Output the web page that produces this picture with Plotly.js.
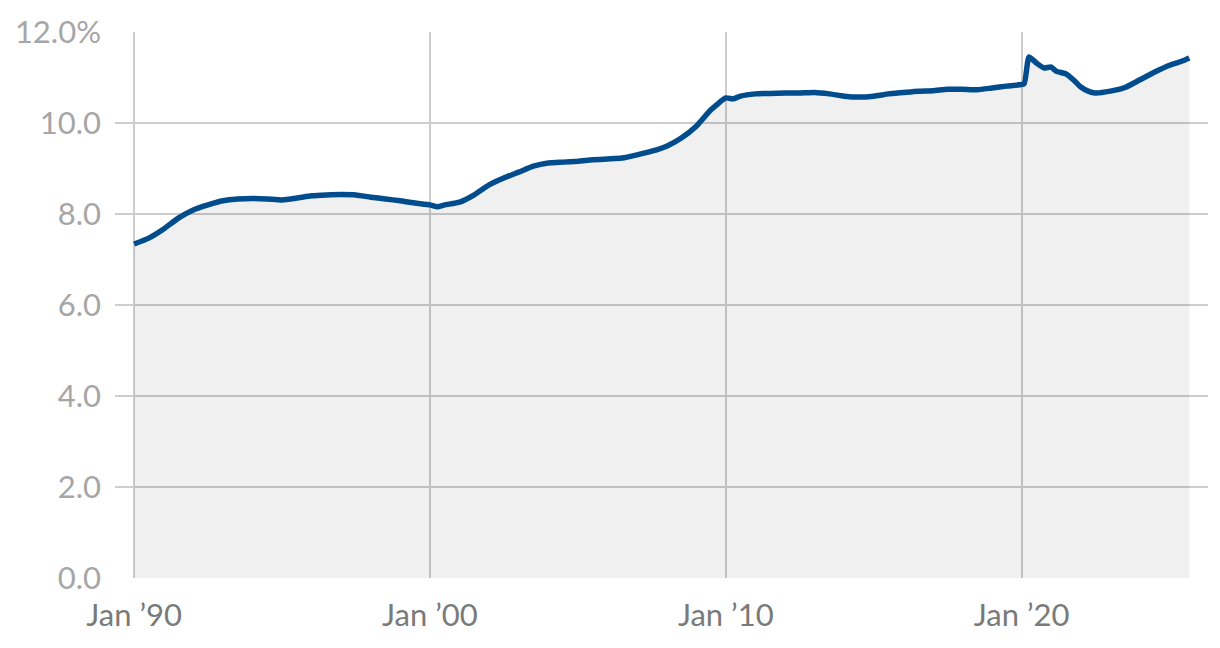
<!DOCTYPE html>
<html>
<head>
<meta charset="utf-8">
<script src="https://cdn.plot.ly/plotly-3.0.1.min.js"></script>
<style>html,body{margin:0;padding:0;background:#fff;}#chart{width:1220px;height:648px;}</style>
</head>
<body>
<div id="chart"></div>
<script>
const dates = [
  "1990-01-01","1990-07-01","1991-01-01","1991-07-01","1992-01-01","1992-07-01",
  "1993-01-01","1993-07-01","1994-01-01","1994-07-01","1995-01-01","1995-07-01",
  "1996-01-01","1996-07-01","1997-01-01","1997-07-01","1998-01-01","1998-07-01",
  "1999-01-01","1999-07-01","2000-01-01","2000-04-01","2000-07-01","2001-01-01",
  "2001-07-01","2002-01-01","2002-07-01","2003-01-01","2003-07-01","2004-01-01",
  "2004-07-01","2005-01-01","2005-07-01","2006-01-01","2006-07-01","2007-01-01",
  "2007-07-01","2008-01-01","2008-07-01","2009-01-01","2009-07-01","2010-01-01",
  "2010-04-01","2010-07-01","2011-01-01","2011-07-01","2012-01-01","2012-07-01",
  "2013-01-01","2013-07-01","2014-01-01","2014-07-01","2015-01-01","2015-07-01",
  "2016-01-01","2016-07-01","2017-01-01","2017-07-01","2018-01-01","2018-07-01",
  "2019-01-01","2019-07-01","2019-12-01","2020-02-01","2020-04-01","2020-07-01",
  "2020-10-01","2021-01-01","2021-03-01","2021-07-01","2021-10-01","2022-01-01",
  "2022-04-01","2022-07-01","2023-01-01","2023-07-01","2024-01-01","2024-07-01",
  "2025-01-01","2025-04-01","2025-07-01","2025-09-01"
];
const rate = [
  7.34,7.47,7.67,7.91,8.09,8.20,
  8.29,8.33,8.34,8.33,8.31,8.35,
  8.40,8.42,8.43,8.42,8.37,8.33,
  8.29,8.24,8.20,8.16,8.20,8.26,
  8.42,8.64,8.79,8.92,9.05,9.12,
  9.14,9.16,9.19,9.21,9.23,9.30,
  9.38,9.49,9.67,9.93,10.29,10.55,
  10.53,10.59,10.64,10.65,10.66,10.66,
  10.67,10.64,10.59,10.57,10.59,10.64,
  10.67,10.70,10.71,10.74,10.74,10.73,
  10.77,10.81,10.84,10.86,11.45,11.32,
  11.21,11.23,11.14,11.08,10.95,10.79,
  10.70,10.66,10.70,10.78,10.95,11.12,
  11.27,11.32,11.38,11.43
];
const yTickVals = [0,2,4,6,8,10,12];
const yTickText = ["0.0","2.0","4.0","6.0","8.0","10.0","12.0%"];
const xTickVals = ["1990-01-01","2000-01-01","2010-01-01","2020-01-01"];
const xTickText = ["Jan \u201990","Jan \u201900","Jan \u201910","Jan \u201920"];

const trace = {
  x: dates, y: rate, type: "scatter", mode: "lines",
  line: {color: "#004c8c", width: 5.5, shape: "spline", smoothing: 0.5},
  fill: "tozeroy", fillcolor: "rgba(0,0,0,0.06)",
  hoverinfo: "skip"
};
const layout = {
  width: 1220, height: 648,
  margin: {l: 115, r: 12, t: 32, b: 70},
  paper_bgcolor: "#fff", plot_bgcolor: "#fff",
  showlegend: false,
  font: {family: "Lato, 'Open Sans', sans-serif"},
  xaxis: {
    type: "date",
    range: ["1989-05-10", "2026-04-20"],
    tickvals: xTickVals, ticktext: xTickText,
    showgrid: true, gridcolor: "#cdcdcd", gridwidth: 2,
    zeroline: false, showline: false, ticks: "",
    tickfont: {size: 31, color: "#7a7a7a"},
    ticklabelstandoff: 16
  },
  yaxis: {
    range: [0, 12],
    tickvals: yTickVals, ticktext: yTickText,
    showgrid: true, gridcolor: "#cdcdcd", gridwidth: 2,
    zeroline: false, showline: false, ticks: "",
    tickfont: {size: 31, color: "#a6a6a6"},
    ticklabelstandoff: 13
  }
};
Plotly.newPlot("chart", [trace], layout, {displayModeBar: false, staticPlot: true});
</script>
</body>
</html>
